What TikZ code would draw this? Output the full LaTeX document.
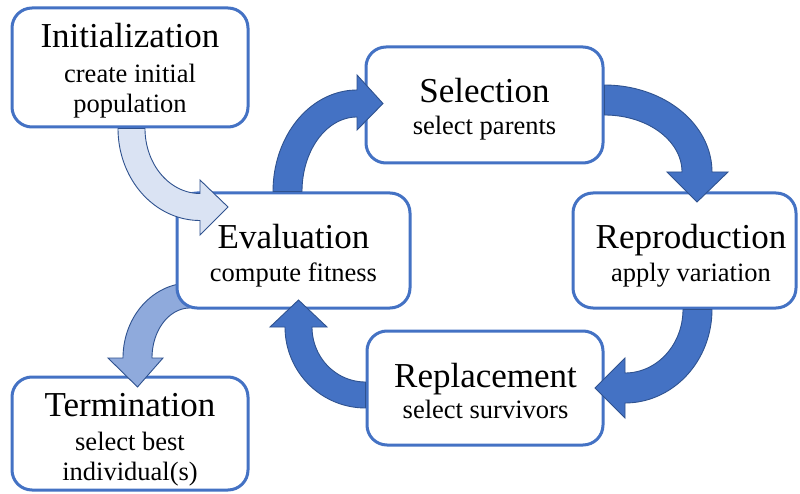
\documentclass[tikz,border=0pt]{standalone}
\usepackage{fontspec}
\setmainfont{Liberation Serif}
\definecolor{boxblue}{HTML}{4472C4}
\definecolor{edgeblue}{HTML}{2F528F}
\definecolor{lightfill}{HTML}{DAE3F3}
\definecolor{midfill}{HTML}{8FAADC}
\begin{document}
\begin{tikzpicture}[x=1pt,y=-1pt,
  box/.style={rectangle, draw=boxblue, line width=3pt, rounded corners=20pt,
    fill=white, inner sep=0pt},
  titletext/.style={anchor=base, inner sep=0pt, font=\fontsize{35}{40}\selectfont},
  subtext/.style={anchor=base, inner sep=0pt, font=\fontsize{26.5}{30}\selectfont},
  blockarrow/.style={draw=edgeblue, line width=0.9pt, line join=miter},
  darkarrow/.style={blockarrow, fill=boxblue},
  plotarc/.style={samples=40}]

% canvas
\fill[white] (0,0) rectangle (800,494);
\path[use as bounding box] (0,0) rectangle (800,494);

% termination sits below the arrow that reaches it
\node[box, minimum width=236pt, minimum height=113pt] (term) at (130,433.5) {};
\node[titletext] (termtitle) at (130,416) {Termination};
\node[subtext] (termsubA) at (130,450) {select best};
\node[subtext] (termsubB) at (130,480) {individual(s)};

% evaluation -> termination (passes under the evaluation box)
\filldraw[blockarrow, fill=midfill]
  plot[plotarc, domain=270:180] ({190+67*cos(\x)},{358+75*sin(\x)})
  -- (108,358) -- (137.5,387) -- (163,358)
  -- plot[plotarc, domain=180:270] ({190+38*cos(\x)},{358+50*sin(\x)}) -- cycle;

% stages
\node[box, minimum width=236pt, minimum height=119pt] (init) at (130,67.5) {};
\node[titletext] (inittitle) at (130,48) {Initialization};
\node[subtext] (initsubA) at (130,83) {create initial};
\node[subtext] (initsubB) at (130,113) {population};

\node[box, minimum width=233pt, minimum height=115pt] (eval) at (293.5,250.5) {};
\node[titletext] (evaltitle) at (293.5,249) {Evaluation};
\node[subtext] (evalsub) at (293.5,281) {compute fitness};

\node[box, minimum width=237pt, minimum height=116pt] (sel) at (484.5,105) {};
\node[titletext] (seltitle) at (484.5,103) {Selection};
\node[subtext] (selsub) at (484.5,135) {select parents};

\node[box, minimum width=223pt, minimum height=115pt] (repro) at (684.5,250.5) {};
\node[titletext] (reprotitle) at (691,249) {Reproduction};
\node[subtext] (reprosub) at (691,281) {apply variation};

\node[box, minimum width=236pt, minimum height=114pt] (repl) at (485,388) {};
\node[titletext] (repltitle) at (485.5,387) {Replacement};
\node[subtext] (replsub) at (485.5,418) {select survivors};

% initialization -> evaluation
\filldraw[blockarrow, fill=lightfill]
  plot[plotarc, domain=180:90] ({200+82*cos(\x)},{128.5+92*sin(\x)})
  -- (200,235) -- (228,207) -- (200,180)
  -- plot[plotarc, domain=90:180] ({200+55*cos(\x)},{128.5+65*sin(\x)}) -- cycle;

% evaluation -> selection
\filldraw[darkarrow]
  plot[plotarc, domain=180:270] ({357+84*cos(\x)},{191.5+101.5*sin(\x)})
  -- (357,75) -- (383,103.5) -- (357,130)
  -- plot[plotarc, domain=270:180] ({357+55*cos(\x)},{191.5+74.5*sin(\x)}) -- cycle;

% selection -> reproduction
\filldraw[darkarrow]
  plot[plotarc, domain=270:360] ({604.5+107.5*cos(\x)},{172+87*sin(\x)})
  -- (728,172) -- (697,202) -- (667,172)
  -- plot[plotarc, domain=360:270] ({604.5+77.5*cos(\x)},{172+57*sin(\x)}) -- cycle;

% reproduction -> replacement
\filldraw[darkarrow]
  plot[plotarc, domain=0:90] ({625+87*cos(\x)},{309.5+93.5*sin(\x)})
  -- (625,418) -- (595,388) -- (625,358)
  -- plot[plotarc, domain=90:0] ({625+58*cos(\x)},{309.5+63.5*sin(\x)}) -- cycle;

% replacement -> evaluation
\filldraw[darkarrow]
  plot[plotarc, domain=90:180] ({365.5+80.5*cos(\x)},{327+81*sin(\x)})
  -- (270,327) -- (298.5,300) -- (327,327)
  -- plot[plotarc, domain=180:90] ({365.5+53.5*cos(\x)},{327+55*sin(\x)}) -- cycle;

\end{tikzpicture}
\end{document}
